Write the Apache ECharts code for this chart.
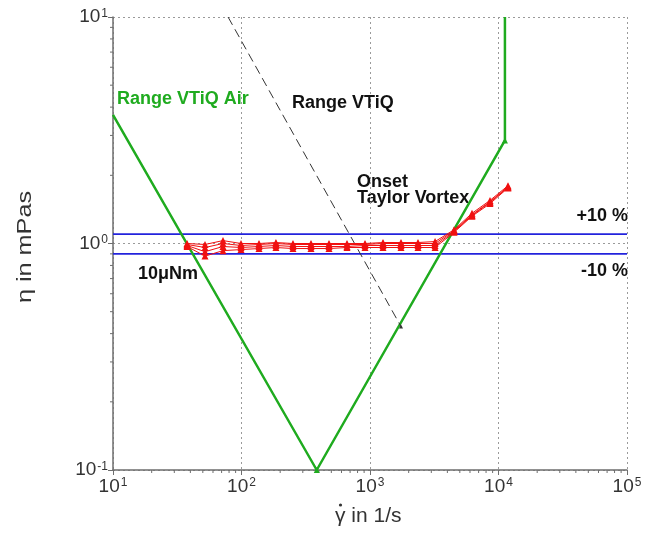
<!DOCTYPE html>
<html>
<head>
<meta charset="utf-8">
<script src="https://cdn.jsdelivr.net/npm/echarts@6/dist/echarts.min.js"></script>
<style>
html,body{margin:0;padding:0;background:#fff;}
#chart{width:657px;height:534px;}
</style>
</head>
<body>
<div id="chart"></div>
<script>
// ---- data ----
const shearRates = [37.7, 52, 71.8, 99.1, 136.8, 185.4, 251.5, 347.3, 479.5, 662, 914, 1262, 1742, 2364, 3208, 4508, 6223, 8592, 11860];
const viscRun1 = [1.00, 0.99, 1.03, 1.00, 1.00, 1.01, 1.00, 1.00, 1.00, 1.00, 1.00, 1.01, 1.01, 1.01, 1.02, 1.15, 1.36, 1.55, 1.80];
const viscRun2 = [0.99, 0.96, 1.00, 0.98, 0.99, 1.00, 0.99, 0.99, 0.99, 0.99, 0.99, 1.00, 1.00, 1.00, 1.00, 1.14, 1.34, 1.53, 1.78];
const viscRun3 = [0.98, 0.92, 0.97, 0.96, 0.97, 0.98, 0.97, 0.97, 0.97, 0.97, 0.98, 0.98, 0.98, 0.98, 0.98, 1.13, 1.33, 1.52, 1.77];
const viscRun4 = [0.97, 0.88, 0.93, 0.94, 0.95, 0.96, 0.95, 0.95, 0.95, 0.96, 0.96, 0.96, 0.96, 0.96, 0.96, 1.12, 1.32, 1.50, 1.76];
const rangeAirX = [10, 385, 11220, 11220];
const rangeAirY = [3.7, 0.1, 2.85, 10];
const rangeVtiqX = [78.6, 1742];
const rangeVtiqY = [10, 0.43];
const tolUpperX = [10, 100000];
const tolUpperY = [1.1, 1.1];
const tolLowerX = [10, 100000];
const tolLowerY = [0.9, 0.9];
const xMin = 10, xMax = 100000, yMin = 0.1, yMax = 10;
const minorMultipliers = [2, 3, 4, 5, 6, 7, 8, 9];
const xDecades = [10, 100, 1000, 10000];
const yDecades = [0.1, 1];

// ---- styles ----
const FONT = '"Liberation Sans", Arial, sans-serif';
const GREEN = '#1fab1f';
const BLUE = '#2323dc';
const RED = '#f01010';
const AXIS = '#6e6e6e';

function pairs(xs, ys) { return xs.map((x, i) => [x, ys[i]]); }
const minorX = [];
xDecades.forEach(d => minorMultipliers.forEach(m => minorX.push(d * m)));
const minorY = [];
yDecades.forEach(d => minorMultipliers.forEach(m => minorY.push(+(d * m).toPrecision(3))));

function expLabel(v) {
  const e = Math.round(Math.log10(v));
  return '{b|10}{s|' + e + '}';
}
const richLabel = {
  b: { fontSize: 19, fontFamily: FONT, color: '#333' },
  s: { fontSize: 12, fontFamily: FONT, color: '#333', verticalAlign: 'top', padding: [0, 0, 0, 1] }
};

function redSeries(vals) {
  return {
    type: 'line',
    data: pairs(shearRates, vals),
    symbol: 'triangle',
    symbolSize: 7,
    lineStyle: { color: RED, width: 1 },
    itemStyle: { color: RED },
    z: 5
  };
}

const chart = echarts.init(document.getElementById('chart'));
const option = {
  animation: false,
  backgroundColor: '#fff',
  grid: { left: 113, right: 30, top: 17, bottom: 64 },
  xAxis: {
    type: 'log', logBase: 10, min: xMin, max: xMax,
    axisLine: { show: true, lineStyle: { color: AXIS, width: 1.5 } },
    axisTick: { show: true, inside: false, length: 5, lineStyle: { color: AXIS } },
    axisLabel: { formatter: expLabel, rich: richLabel, margin: 7 },
    splitLine: { show: true, lineStyle: { color: '#9a9a9a', type: [2, 3], width: 1 } }
  },
  yAxis: {
    type: 'log', logBase: 10, min: yMin, max: yMax,
    axisLine: { show: true, lineStyle: { color: AXIS, width: 1.5 } },
    axisTick: { show: true, inside: false, length: 5, lineStyle: { color: AXIS } },
    axisLabel: { formatter: expLabel, rich: richLabel, margin: 5 },
    splitLine: { show: true, lineStyle: { color: '#9a9a9a', type: [2, 3], width: 1 } }
  },
  series: [
    {
      type: 'custom', silent: true, clip: false, z: 1,
      data: minorX.map(v => [v, yMin]),
      renderItem: function (params, api) {
        const p = api.coord([api.value(0), yMin]);
        return { type: 'line', shape: { x1: p[0], y1: p[1], x2: p[0], y2: p[1] + 3 }, style: { stroke: AXIS, lineWidth: 1 } };
      }
    },
    {
      type: 'custom', silent: true, clip: false, z: 1,
      data: minorY.map(v => [xMin, v]),
      renderItem: function (params, api) {
        const p = api.coord([xMin, api.value(1)]);
        return { type: 'line', shape: { x1: p[0], y1: p[1], x2: p[0] - 3, y2: p[1] }, style: { stroke: AXIS, lineWidth: 1 } };
      }
    },
    {
      type: 'line', data: pairs(tolUpperX, tolUpperY), symbol: 'none',
      lineStyle: { color: BLUE, width: 1.6 }, z: 3
    },
    {
      type: 'line', data: pairs(tolLowerX, tolLowerY), symbol: 'none',
      lineStyle: { color: BLUE, width: 1.6 }, z: 3
    },
    {
      type: 'line',
      data: pairs(rangeAirX, rangeAirY).map((p, i) => ({ value: p, symbolSize: (i === 1 || i === 2) ? 6 : 0 })),
      symbol: 'triangle',
      lineStyle: { color: GREEN, width: 2.5 },
      itemStyle: { color: GREEN },
      z: 4
    },
    {
      type: 'line',
      data: pairs(rangeVtiqX, rangeVtiqY).map((p, i) => ({ value: p, symbolSize: i === 1 ? 4 : 0 })),
      symbol: 'triangle',
      lineStyle: { color: '#333', width: 1, type: [9, 5] },
      itemStyle: { color: '#333' },
      z: 4
    },
    redSeries(viscRun4),
    redSeries(viscRun3),
    redSeries(viscRun2),
    redSeries(viscRun1)
  ],
  graphic: [
    { type: 'text', left: 117, top: 90, style: { text: 'Range VTiQ Air', fill: GREEN, font: 'bold 18px ' + FONT } },
    { type: 'text', left: 292, top: 94, style: { text: 'Range VTiQ', fill: '#111', font: 'bold 18px ' + FONT } },
    { type: 'text', left: 357, top: 173, style: { text: 'Onset', fill: '#111', font: 'bold 18px ' + FONT } },
    { type: 'text', left: 357, top: 189, style: { text: 'Taylor Vortex', fill: '#111', font: 'bold 18px ' + FONT } },
    { type: 'text', right: 29, top: 207, style: { text: '+10 %', fill: '#111', font: 'bold 18px ' + FONT } },
    { type: 'text', right: 29, top: 262, style: { text: '-10 %', fill: '#111', font: 'bold 18px ' + FONT } },
    { type: 'text', left: 138, top: 265, style: { text: '10\u03bcNm', fill: '#111', font: 'bold 18px ' + FONT } },
    { type: 'text', x: 335, y: 516, style: { text: '\u03b3 in 1/s', fill: '#333', font: '21px ' + FONT, verticalAlign: 'middle' } },
    { type: 'circle', shape: { cx: 340.5, cy: 505, r: 1.6 }, style: { fill: '#333' } },
    { type: 'text', x: 25, y: 247, rotation: Math.PI / 2, scaleX: 1.2, style: { text: '\u03b7 in mPas', fill: '#333', font: '21px ' + FONT, align: 'center', verticalAlign: 'middle' } }
  ]
};
chart.setOption(option);
</script>
</body>
</html>
